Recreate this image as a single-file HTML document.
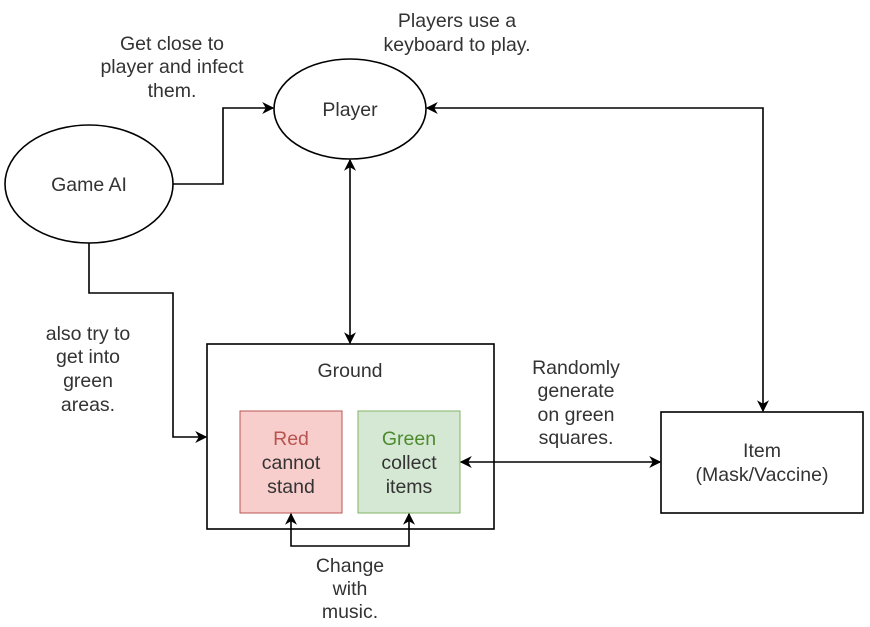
<!DOCTYPE html>
<html><head><meta charset="utf-8"><style>
html,body{margin:0;padding:0;background:#fff;}
svg{display:block;}
text{font-family:"Liberation Sans",Arial,sans-serif;font-size:19.5px;fill:#333;text-anchor:middle;}
</style></head><body>
<svg width="870" height="627" viewBox="0 0 870 627" xmlns="http://www.w3.org/2000/svg">
<defs>
<marker id="a" viewBox="0 0 10 10" refX="9" refY="5" markerWidth="12" markerHeight="12" markerUnits="userSpaceOnUse" orient="auto-start-reverse">
<path d="M0,0 L10,5 L0,10 L3,5 z" fill="#000"/>
</marker>
</defs>
<g fill="none" stroke="#000" stroke-width="1.6">
<ellipse cx="350" cy="109" rx="76" ry="50" fill="#fff"/>
<ellipse cx="89" cy="184" rx="84" ry="59" fill="#fff"/>
<rect x="207" y="344" width="287" height="185" fill="#fff"/>
<rect x="661" y="412" width="202" height="101" fill="#fff"/>
</g>
<rect x="240" y="411" width="102" height="102" fill="#f8cecc" stroke="#b85450" stroke-width="1"/>
<rect x="358" y="411" width="102" height="102" fill="#d5e8d4" stroke="#82b366" stroke-width="1"/>
<g fill="none" stroke="#000" stroke-width="1.6">
<path d="M173,184 H223 V108 H273" marker-end="url(#a)"/>
<path d="M350,160 V343" marker-start="url(#a)" marker-end="url(#a)"/>
<path d="M427,108 H763 V411" marker-start="url(#a)" marker-end="url(#a)"/>
<path d="M461,462 H660" marker-start="url(#a)" marker-end="url(#a)"/>
<path d="M89,243 V293 H173 V437 H206" marker-end="url(#a)"/>
<path d="M291,514 V546 H409 V514" marker-start="url(#a)" marker-end="url(#a)"/>
</g>
<text x="350" y="116">Player</text>
<text x="89" y="191">Game AI</text>
<text x="350" y="377">Ground</text>
<text x="291" y="445" style="fill:#b85450">Red</text>
<text x="291" y="469">cannot</text>
<text x="291" y="493">stand</text>
<text x="409" y="445" style="fill:#4d8a2e">Green</text>
<text x="409" y="469">collect</text>
<text x="409" y="493">items</text>
<text x="762" y="457">Item</text>
<text x="762" y="481">(Mask/Vaccine)</text>
<text x="172" y="50">Get close to</text>
<text x="172" y="73">player and infect</text>
<text x="172" y="97">them.</text>
<text x="457" y="27">Players use a</text>
<text x="457" y="51">keyboard to play.</text>
<text x="88" y="340">also try to</text>
<text x="88" y="363">get into</text>
<text x="88" y="387">green</text>
<text x="88" y="411">areas.</text>
<text x="576" y="374">Randomly</text>
<text x="576" y="397">generate</text>
<text x="576" y="421">on green</text>
<text x="576" y="444">squares.</text>
<text x="350" y="572">Change</text>
<text x="350" y="595">with</text>
<text x="350" y="618">music.</text>
</svg>
</body></html>
